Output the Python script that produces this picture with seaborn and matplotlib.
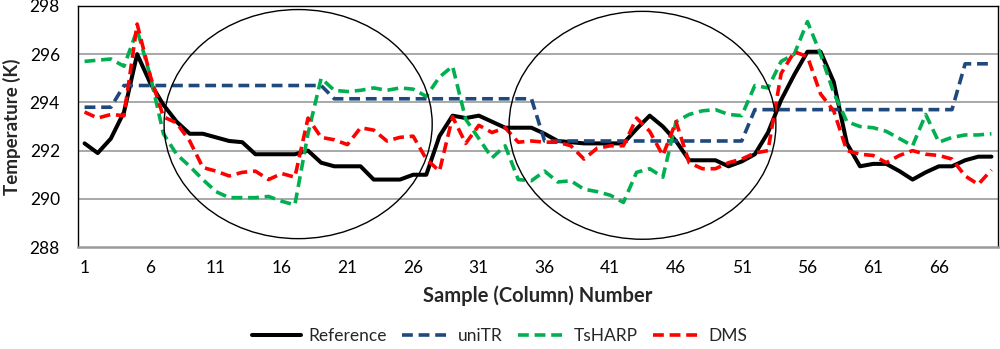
import matplotlib
matplotlib.use("Agg")
import matplotlib.pyplot as plt
from matplotlib.patches import Ellipse
import pandas as pd
import seaborn as sns

samples = list(range(1, 71))

reference = [292.3, 291.9, 292.5, 293.6, 296.0, 294.8, 293.9, 293.2, 292.7, 292.7,
             292.55, 292.4, 292.35, 291.85, 291.85, 291.85, 291.85, 292.0, 291.5, 291.35,
             291.35, 291.35, 290.8, 290.8, 290.8, 291.0, 291.0, 292.6, 293.45, 293.35,
             293.45, 293.2, 292.95, 292.95, 292.95, 292.7, 292.4, 292.35, 292.3, 292.3,
             292.3, 292.3, 292.9, 293.45, 293.0, 292.4, 291.6, 291.6, 291.6, 291.35,
             291.55, 291.85, 292.75, 294.1, 295.15, 296.1, 296.1, 294.85, 292.3, 291.35,
             291.45, 291.45, 291.15, 290.8, 291.1, 291.35, 291.35, 291.6, 291.75, 291.75]

unitr = [293.8, 293.8, 293.8, 294.7, 294.7, 294.7, 294.7, 294.7, 294.7, 294.7,
         294.7, 294.7, 294.7, 294.7, 294.7, 294.7, 294.7, 294.7, 294.7, 294.15,
         294.15, 294.15, 294.15, 294.15, 294.15, 294.15, 294.15, 294.15, 294.15, 294.15,
         294.15, 294.15, 294.15, 294.15, 294.15, 292.4, 292.4, 292.4, 292.4, 292.4,
         292.4, 292.4, 292.4, 292.4, 292.4, 292.4, 292.4, 292.4, 292.4, 292.4,
         292.4, 293.7, 293.7, 293.7, 293.7, 293.7, 293.7, 293.7, 293.7, 293.7,
         293.7, 293.7, 293.7, 293.7, 293.7, 293.7, 293.7, 295.6, 295.6, 295.6]

tsharp = [295.7, 295.75, 295.8, 295.5, 297.0, 295.1, 292.7, 291.85, 291.35, 290.8,
          290.3, 290.05, 290.05, 290.05, 290.1, 289.9, 289.75, 292.7, 295.0, 294.5,
          294.45, 294.5, 294.6, 294.5, 294.6, 294.55, 294.25, 295.05, 295.5, 293.3,
          292.5, 291.7, 292.2, 290.8, 290.75, 291.15, 290.7, 290.75, 290.4, 290.3,
          290.15, 289.85, 291.1, 291.25, 290.9, 293.2, 293.5, 293.65, 293.7, 293.5,
          293.45, 294.7, 294.6, 295.7, 296.0, 297.35, 296.0, 294.4, 293.2, 293.0,
          292.95, 292.8, 292.5, 292.2, 293.5, 292.35, 292.55, 292.65, 292.65, 292.7]

dms = [293.6, 293.35, 293.5, 293.45, 297.25, 295.1, 293.4, 293.15, 292.4, 291.3,
       291.15, 290.95, 291.1, 291.15, 290.8, 291.05, 290.9, 293.35, 292.55, 292.45,
       292.25, 292.95, 292.85, 292.4, 292.55, 292.6, 291.65, 291.15, 293.4, 292.3,
       293.05, 292.75, 292.95, 292.35, 292.4, 292.35, 292.35, 292.2, 291.65, 292.1,
       292.2, 292.2, 293.35, 292.8, 291.8, 293.2, 291.5, 291.25, 291.25, 291.5,
       291.65, 291.9, 292.0, 295.2, 296.1, 295.9, 294.35, 293.65, 292.0, 291.85,
       291.8, 291.5, 291.8, 292.0, 291.85, 291.8, 291.65, 290.95, 290.6, 291.2]

x_ticks = [1, 6, 11, 16, 21, 26, 31, 36, 41, 46, 51, 56, 61, 66]
y_ticks = [288, 290, 292, 294, 296, 298]

sns.set_theme(style="white")
plt.rcParams['font.family'] = ['Lato', 'DejaVu Sans']

df = pd.DataFrame({'sample': samples, 'Reference': reference, 'uniTR': unitr,
                   'TsHARP': tsharp, 'DMS': dms})

fig = plt.figure(figsize=(10, 3.49), dpi=100)
ax = fig.add_axes([0.078, 0.292, 0.92, 0.691])

for y in y_ticks[1:-1]:
    ax.axhline(y, color='#999999', lw=1.2, zorder=0)

dash = (0, (3, 1.6))
sns.lineplot(data=df, x='sample', y='Reference', ax=ax, color='black', lw=2.9, label='Reference')
sns.lineplot(data=df, x='sample', y='uniTR', ax=ax, color='#1F497D', lw=2.6, linestyle=dash, label='uniTR')
sns.lineplot(data=df, x='sample', y='TsHARP', ax=ax, color='#00B050', lw=2.6, linestyle=dash, label='TsHARP')
sns.lineplot(data=df, x='sample', y='DMS', ax=ax, color='#FF0000', lw=2.6, linestyle=dash, label='DMS')

# circled regions
ax.add_patch(Ellipse((17.25, 293.1), 20.4, 9.5, fill=False, ec='black', lw=1.0, zorder=5))
ax.add_patch(Ellipse((43.45, 293.05), 20.3, 9.45, fill=False, ec='black', lw=1.0, zorder=5))

ax.set_xlim(0.5, 70.5)
ax.set_ylim(288, 298)
ax.set_xticks(x_ticks)
ax.set_yticks(y_ticks)
ax.tick_params(axis='both', length=0, labelsize=12.5, colors='black')
ax.tick_params(axis='x', pad=9)
ax.tick_params(axis='y', pad=13)

for s in ['left', 'top', 'right']:
    ax.spines[s].set_color('black')
    ax.spines[s].set_linewidth(1.0)
ax.spines['bottom'].set_color('#999999')
ax.spines['bottom'].set_linewidth(1.8)

ax.set_xlabel('Sample (Column) Number', fontsize=14.5, fontweight='bold', labelpad=7)
ax.set_ylabel('Temperature (K)', fontsize=13.5, fontweight='bold', labelpad=6)

ax.get_legend().remove()
handles, labels = ax.get_legend_handles_labels()
fig.legend(handles, labels, loc='center', bbox_to_anchor=(0.5, 0.036), ncol=4, frameon=False,
           fontsize=12.5, handlelength=2.8, columnspacing=0.9, handletextpad=0.4)

fig.savefig('out.png', dpi=100)
